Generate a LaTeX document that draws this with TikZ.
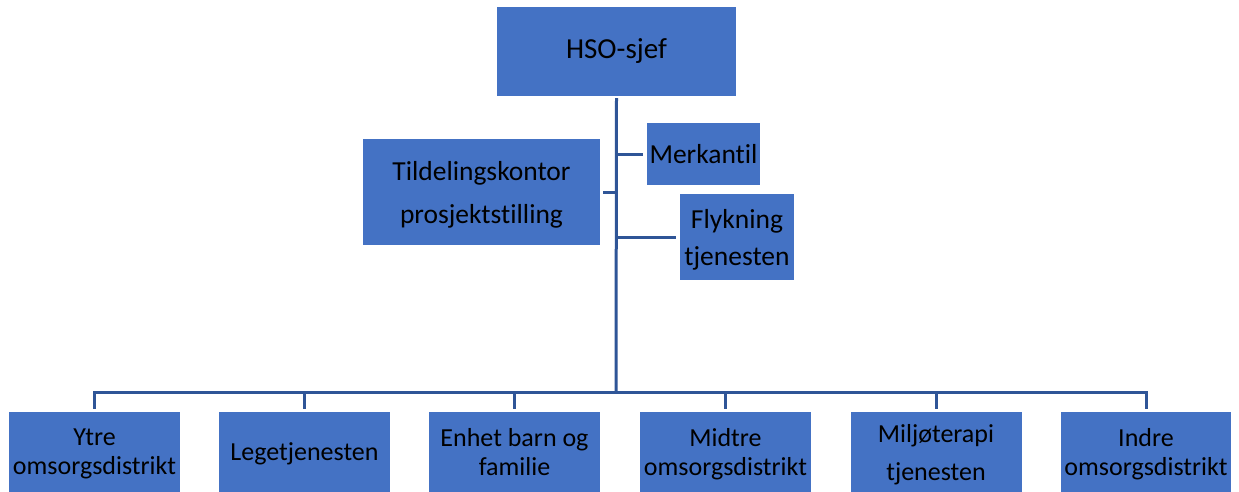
\documentclass[tikz,border=0pt]{standalone}
\usepackage{fontspec}
\setmainfont[RawFeature={-liga}]{Carlito}
\definecolor{boxblue}{HTML}{4472C4}
\definecolor{linkblue}{HTML}{2F5597}
\begin{document}
\begin{tikzpicture}[x=1pt,y=-1pt,
  box/.style={fill=boxblue, draw=none, inner sep=0pt, align=center, text=black},
  bot/.style={box, minimum width=171pt, minimum height=80pt, text depth=0pt, font=\fontsize{26}{29}\selectfont},
  mid/.style={box, font=\fontsize{27.5}{37}\selectfont},
  link/.style={draw=linkblue, line width=3pt},
  ]
\useasboundingbox (0,0) rectangle (1239,492);
% top
\node[box, minimum width=239pt, minimum height=89pt, font=\fontsize{29}{35}\selectfont] (hso) at (616.5,51.5) {HSO-sjef};
% middle
\node[mid, minimum width=237pt, minimum height=106pt, text depth=0pt, font=\fontsize{27.5}{43}\selectfont] (tild) at (481.5,192) {Tildelingskontor\\prosjektstilling};
\node[mid, minimum width=113pt, minimum height=62pt] (merk) at (703.5,154) {Merkantil};
\node[mid, minimum width=114pt, minimum height=86pt, text depth=0pt] (flyk) at (737,237) {Flykning\\tjenesten};
% bottom
\node[bot] (ytre) at (94.5,452) {Ytre\\omsorgsdistrikt};
\node[bot] (lege) at (304.5,452) {Legetjenesten};
\node[bot] (enhet) at (514.5,452) {Enhet barn og\\familie};
\node[bot] (midtre) at (725.5,452) {Midtre\\omsorgsdistrikt};
\node[bot, font=\fontsize{26}{38}\selectfont] (milj) at (936,452) {Miljøterapi\\tjenesten};
\node[bot, minimum width=170pt] (indre) at (1146,452) {Indre\\omsorgsdistrikt};
% connectors
\coordinate (bus) at (616,392);
\draw[link, shorten <=2pt] (hso.south) -- (bus);
\draw[link, shorten >=3pt] (bus |- tild.east) -- (tild.east);
\draw[link, shorten >=4pt] (bus |- merk.west) -- (merk.west);
\draw[link, shorten >=4pt] (bus |- flyk.west) -- (flyk.west);
\foreach \b in {ytre,lege,enhet,midtre,milj,indre}
  \draw[link, shorten >=3pt] (bus) -| (\b.north);
\end{tikzpicture}
\end{document}
